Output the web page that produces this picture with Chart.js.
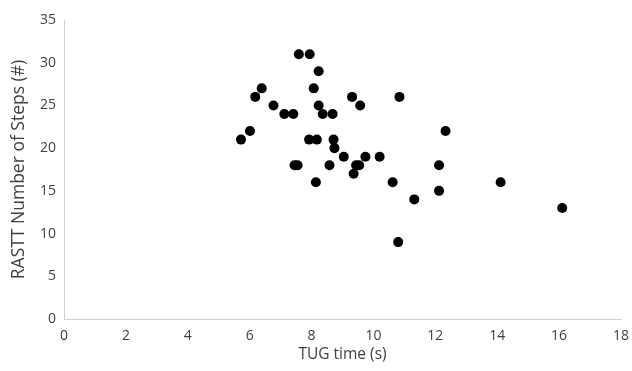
<!DOCTYPE html>
<html>
<head>
<meta charset="utf-8">
<script src="https://cdn.jsdelivr.net/npm/chart.js@4/dist/chart.umd.min.js"></script>
<style>
  html, body { margin: 0; padding: 0; background: #fff; }
  #wrap { width: 632px; height: 371px; }
</style>
</head>
<body>
<div id="wrap"><canvas id="scatterChart"></canvas></div>
<script>
// TUG time (s) and RASTT steps
const tugTime = [5.72, 6.01, 6.18, 6.39, 6.77, 7.12, 7.41, 7.45, 7.55, 7.59,
                 7.92, 7.94, 8.07, 8.14, 8.17, 8.23, 8.23, 8.36, 8.58, 8.68,
                 8.71, 8.74, 9.04, 9.31, 9.36, 9.44, 9.54, 9.57, 9.74, 10.2,
                 10.62, 10.8, 10.84, 11.32, 12.12, 12.12, 12.33, 14.11, 16.1];
const rasttSteps = [21, 22, 26, 27, 25, 24, 24, 18, 18, 31,
                    21, 31, 27, 16, 21, 29, 25, 24, 18, 24,
                    21, 20, 19, 26, 17, 18, 18, 25, 19, 19,
                    16, 9, 26, 14, 18, 15, 22, 16, 13];
const xTicks = [0, 2, 4, 6, 8, 10, 12, 14, 16, 18];
const yTicks = [0, 5, 10, 15, 20, 25, 30, 35];

const points = tugTime.map((t, i) => ({ x: t, y: rasttSteps[i] }));
const textColor = '#404040';
const font = "'Open Sans', 'Noto Sans', sans-serif";

const ctx = document.getElementById('scatterChart').getContext('2d');
new Chart(ctx, {
    type: 'scatter',
    data: {
        datasets: [{
            data: points,
            backgroundColor: '#000',
            borderColor: '#000',
            borderWidth: 0,
            pointRadius: 5,
            pointHoverRadius: 5
        }]
    },
    options: {
        responsive: true,
        maintainAspectRatio: false,
        animation: false,
        layout: { padding: { top: 20, right: 11, left: 0, bottom: 0 } },
        plugins: { legend: { display: false }, tooltip: { enabled: false } },
        scales: {
            x: {
                type: 'linear',
                min: 0, max: 18,
                afterBuildTicks: axis => { axis.ticks = xTicks.map(v => ({ value: v })); },
                afterFit: axis => {
                    axis.height = 52;
                    axis.paddingLeft = 0;
                    axis.paddingRight = 0;
                },
                grid: { display: false, drawTicks: false },
                border: { color: '#d0d0d0', width: 1 },
                ticks: { color: textColor, font: { family: font, size: 14 }, padding: 9 },
                title: {
                    display: true, text: 'TUG time (s)', color: textColor,
                    font: { family: font, size: 15.5 }, padding: { top: 0, bottom: 7 }
                }
            },
            y: {
                type: 'linear',
                min: 0, max: 35,
                afterBuildTicks: axis => { axis.ticks = yTicks.map(v => ({ value: v })); },
                afterFit: axis => { axis.width = 64; },
                grid: { display: false, drawTicks: false },
                border: { color: '#d0d0d0', width: 1 },
                ticks: { color: textColor, font: { family: font, size: 14 }, padding: 8 },
                title: {
                    display: true, text: 'RASTT Number of Steps (#)', color: textColor,
                    font: { family: font, size: 17.5 }, padding: { top: 9, bottom: 2 }
                }
            }
        }
    }
});
</script>
</body>
</html>
